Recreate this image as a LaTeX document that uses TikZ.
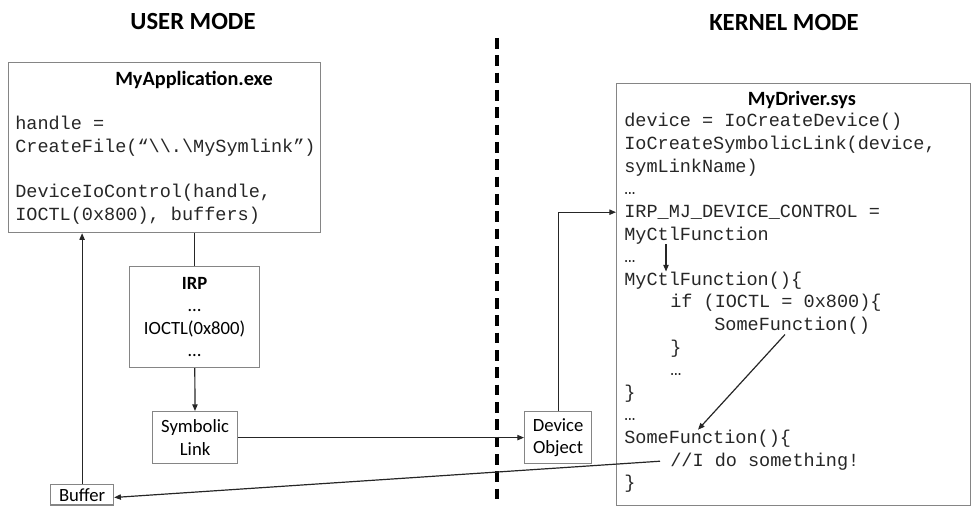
\documentclass[tikz,border=0pt]{standalone}
\usepackage{fontspec}
\setmainfont{Carlito}
\setmonofont{Liberation Mono}
\usepackage{tikz}
\usepackage{xcolor}
\definecolor{BoxGray}{HTML}{858585}
\definecolor{WireDark}{HTML}{262626}
\usetikzlibrary{positioning,arrows.meta}

\begin{document}
\begin{tikzpicture}[x=0.75pt,y=-0.75pt,
  box/.style={draw=BoxGray, line width=0.9pt, inner sep=0pt, anchor=north west},
  code/.style={font=\ttfamily\fontsize{13.9}{16.9}\selectfont, text=black!85, anchor=base west, inner sep=0pt},
  lbl/.style={font=\fontsize{14}{16.9}\selectfont, align=center, inner sep=0pt},
  head/.style={font=\bfseries\fontsize{18.5}{22}\selectfont},
  title/.style={font=\bfseries\fontsize{15.2}{18}\selectfont},
  wire/.style={draw=WireDark, line width=0.9pt},
  arr/.style={wire, -{Triangle[length=5pt,width=4pt]}}]
  \useasboundingbox (0,0) rectangle (974,506);
  % headings and the mode boundary
  \node[head] (usermode) at (193,22) {USER MODE};
  \node[head] (kernelmode) at (784,22) {KERNEL MODE};
  \draw[black, line width=2.3pt, dash pattern=on 8pt off 5pt] (497,38) -- (497,506);
  % user mode
  \node[box, minimum width=234pt, minimum height=127.5pt] (app) at (8,62) {};
  \node[title] (apptitle) at (194,80) {MyApplication.exe};
  \node[code] (app0) at (15,130) {handle =};
  \node[code] (app1) at (15,152) {CreateFile(“\textbackslash\textbackslash.\textbackslash MySymlink”)};
  \node[code] (app2) at (15,198) {DeviceIoControl(handle,};
  \node[code] (app3) at (15,220) {IOCTL(0x800), buffers)};
  \node[box, lbl, anchor=north west, minimum width=97.5pt, minimum height=75.75pt] (irp) at (129,266)
    {\textbf{IRP}\\…\\IOCTL(0x800)\\…};
  \node[box, lbl, anchor=north west, minimum width=63.75pt, minimum height=39pt] (symlink) at (152,411) {Symbolic\\Link};
  \node[box, lbl, anchor=north west, minimum width=47.25pt, minimum height=15.3pt] (buffer) at (50,484) {Buffer};
  % kernel mode
  \node[box, lbl, anchor=north west, minimum width=50.25pt, minimum height=39pt] (devobj) at (524,411) {Device\\Object};
  \node[box, minimum width=265.5pt, minimum height=316.5pt] (drvbox) at (616,83) {};
  \node[title] (drvtitle) at (802,100) {MyDriver.sys};
  \foreach \i/\dx/\txt in {0/0/{device = IoCreateDevice()}, 1/0/{IoCreateSymbolicLink(device,},
      2/0/{symLinkName)}, 3/0/{…}, 4/0/{IRP\_MJ\_DEVICE\_CONTROL =}, 5/0/{MyCtlFunction},
      6/0/{…}, 7/0/{MyCtlFunction()\{}, 8/46/{if (IOCTL = 0x800)\{}, 9/90/{SomeFunction()},
      10/46/{\}}, 11/46/{…}, 12/0/{\}}, 13/0/{…}, 14/0/{SomeFunction()\{},
      15/46/{//I do something!}, 16/0/{\}}}
    \node[code] (drv\i) at (624+\dx,127+22.6*\i) {\txt};
  % connectors
  \draw[wire] (irp.north) -- (irp.north |- app.south);
  \draw[arr] (irp) -- (symlink);
  \draw[arr] (symlink) -- (devobj);
  \draw[arr] (devobj.north) |- (drv4.west -| drvbox.west);
  \draw[arr] ([xshift=31.5pt]drv5.south west) -- ([xshift=31.5pt]drv7.north west);
  \draw[arr] ([xshift=53.25pt]drv9.south west) -- ([xshift=55.5pt]drv14.north west);
  \draw[arr] ([xshift=-7.5pt]drv15.west) -- ([yshift=-2pt]buffer.east);
  \draw[arr] (buffer.north) -- (buffer.north |- app.south);
\end{tikzpicture}
\end{document}
